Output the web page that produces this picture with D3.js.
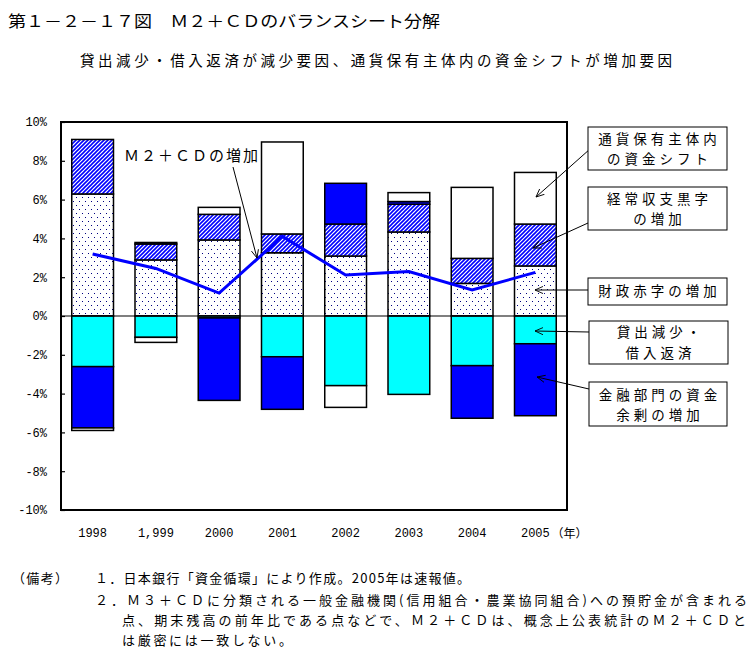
<!DOCTYPE html>
<html><head><meta charset="utf-8">
<script src="https://cdn.jsdelivr.net/npm/d3@7/dist/d3.min.js"></script>
<style>
html,body{margin:0;padding:0;background:#fff;}
svg{display:block;}
</style>
</head><body>
<svg id="chart" width="752" height="655"></svg>
<script>
// ---- data ----
const years = ["1998","1,999","2000","2001","2002","2003","2004","2005"];
const fiscalDeficit = [6.29, 2.89, 3.92, 3.26, 3.09, 4.33, 1.68, 2.58];   // 財政赤字の増加 (dotted)
const currentSurplus = [2.81, 0.82, 1.32, 0.97, 1.65, 1.43, 1.29, 2.16];  // 経常収支黒字の増加 (hatched)
const lendingDecline = [-2.61, -1.10, -0.10, -2.10, -3.59, -4.04, -2.56, -1.43]; // 貸出減少・借入返済 (cyan)
const financialSurplus = [-3.16, 0.08, -4.25, -2.71, 2.10, 0.14, -2.71, -3.71];  // 金融部門の資金余剰の増加 (blue)
const fundShift = [-0.13, -0.26, 0.36, 4.74, -1.12, 0.46, 3.66, 2.66];    // 通貨保有主体内の資金シフト (white)
const m2cd = [3.2, 2.45, 1.18, 4.1, 2.11, 2.29, 1.34, 2.25];              // Ｍ２＋ＣＤの増加
const yTicks = [-10,-8,-6,-4,-2,0,2,4,6,8,10];

const keys = ["fiscal","current","lending","financial","shift"];
const table = years.map((y,i)=>({year:y, fiscal:fiscalDeficit[i], current:currentSurplus[i],
  lending:lendingDecline[i], financial:financialSurplus[i], shift:fundShift[i]}));

const JP = "'Noto Sans CJK JP', sans-serif";
const NUM = "'Liberation Mono', 'DejaVu Sans Mono', monospace";

const svg = d3.select("#chart");
const defs = svg.append("defs");

// dotted pattern
const dots = defs.append("pattern").attr("id","dots").attr("patternUnits","userSpaceOnUse")
  .attr("width",6).attr("height",8);
dots.append("rect").attr("width",6).attr("height",8).attr("fill","#fff");
dots.append("rect").attr("x",1).attr("y",1).attr("width",1).attr("height",1).attr("fill","#000080");
dots.append("rect").attr("x",4).attr("y",5).attr("width",1).attr("height",1).attr("fill","#000080");

// hatch pattern
const hatch = defs.append("pattern").attr("id","hatch").attr("patternUnits","userSpaceOnUse")
  .attr("width",4).attr("height",4);
hatch.append("rect").attr("width",4).attr("height",4).attr("fill","#fff");
hatch.append("path").attr("d","M-1,1 L1,-1 M0,4 L4,0 M3,5 L5,3")
  .attr("stroke","#0000ff").attr("stroke-width",1.6);

// arrow marker
defs.append("marker").attr("id","arr").attr("viewBox","0 -5 10 10")
  .attr("refX",9).attr("refY",0).attr("markerWidth",9).attr("markerHeight",9)
  .attr("markerUnits","userSpaceOnUse").attr("orient","auto")
  .append("path").attr("d","M0,-4 L9,0 L0,4").attr("fill","none").attr("stroke","#000").attr("stroke-width",1);

const fills = {fiscal:"url(#dots)", current:"url(#hatch)", lending:"#00ffff", financial:"#0000ff", shift:"#ffffff"};

// scales
const x = d3.scaleBand().domain(years).range([61,567]).paddingInner(0.34).paddingOuter(0.17);
const y = d3.scaleLinear().domain([-10,10]).range([510,122]);

// stacks
const series = d3.stack().keys(keys).offset(d3.stackOffsetDiverging)(table);

const gBars = svg.append("g");
series.forEach(s=>{
  gBars.selectAll(null).data(s).join("rect")
    .attr("x", d=>x(d.data.year))
    .attr("width", x.bandwidth())
    .attr("y", d=>y(Math.max(d[0],d[1])))
    .attr("height", d=>Math.abs(y(d[0])-y(d[1])))
    .attr("fill", fills[s.key])
    .attr("stroke","#000").attr("stroke-width",1.5);
});

// zero line
svg.append("line").attr("x1",61).attr("x2",567).attr("y1",y(0)).attr("y2",y(0))
  .attr("stroke","#000").attr("stroke-width",1.2);

// M2+CD line
const line = d3.line().x((d,i)=>x(years[i])+x.bandwidth()/2).y(d=>y(d));
svg.append("path").datum(m2cd).attr("d",line).attr("fill","none")
  .attr("stroke","#0000ff").attr("stroke-width",3).attr("stroke-linejoin","miter");

// frame
svg.append("rect").attr("x",61).attr("y",122).attr("width",506).attr("height",388)
  .attr("fill","none").attr("stroke","#000").attr("stroke-width",2);

// y axis
const yAxis = d3.axisLeft(y).tickValues(yTicks).tickSizeInner(-4).tickSizeOuter(0)
  .tickPadding(14).tickFormat(d=>d+"%");
const gy = svg.append("g").attr("transform","translate(61,0)").call(yAxis);
gy.select(".domain").remove();
gy.selectAll(".tick line").attr("stroke","#000").attr("stroke-width",1.2);
gy.selectAll(".tick text").attr("font-family",NUM).attr("font-size",12).attr("fill","#000");

// x axis
const xAxis = d3.axisBottom(x).tickSize(0).tickPadding(18);
const gx = svg.append("g").attr("transform","translate(0,510)").call(xAxis);
gx.select(".domain").remove();
gx.selectAll(".tick text").attr("font-family",NUM).attr("font-size",12).attr("fill","#000");
svg.append("text").attr("x", x("2005")+x.bandwidth()/2+16).attr("y",538)
  .attr("font-family",JP).attr("font-size",12).text("（年）");

// title & subtitle
svg.append("text").attr("x",8).attr("y",27).attr("font-family",JP).attr("font-size",16)
  .attr("textLength",432).attr("lengthAdjust","spacingAndGlyphs")
  .text("第１－２－１７図　Ｍ２＋ＣＤのバランスシート分解");
svg.append("text").attr("x",80).attr("y",66).attr("font-family",JP).attr("font-size",14.5)
  .attr("textLength",592).attr("lengthAdjust","spacing")
  .text("貸出減少・借入返済が減少要因、通貨保有主体内の資金シフトが増加要因");

// M2+CD label
svg.append("text").attr("x",124).attr("y",161).attr("font-family",JP).attr("font-size",15)
  .attr("textLength",134).attr("lengthAdjust","spacing").text("Ｍ２＋ＣＤの増加");
svg.append("line").attr("x1",233).attr("y1",167).attr("x2",257).attr("y2",258)
  .attr("stroke","#000").attr("stroke-width",1).attr("marker-end","url(#arr)");

// annotation boxes
const boxes = [
  {x:588,y:127,w:139,h:43,lines:["通貨保有主体内","の資金シフト"],ly:[144,164],ax:[590,149,536,197]},
  {x:588,y:187,w:139,h:43,lines:["経常収支黒字","の増加"],ly:[204,224],ax:[588,223,533,248]},
  {x:588,y:278,w:139,h:27,lines:["財政赤字の増加"],ly:[296],ax:[588,290,535,290]},
  {x:589,y:321,w:139,h:43,lines:["貸出減少・","借入返済"],ly:[337,358],ax:[589,332,535,331]},
  {x:589,y:382,w:138,h:44,lines:["金融部門の資金","余剰の増加"],ly:[400,420],ax:[589,389,537,377]}
];
boxes.forEach(b=>{
  svg.append("line").attr("x1",b.ax[0]).attr("y1",b.ax[1]).attr("x2",b.ax[2]).attr("y2",b.ax[3])
    .attr("stroke","#000").attr("stroke-width",1).attr("marker-end","url(#arr)");
  svg.append("rect").attr("x",b.x).attr("y",b.y).attr("width",b.w).attr("height",b.h)
    .attr("fill","#fff").attr("stroke","#000").attr("stroke-width",1);
  b.lines.forEach((t,i)=>{
    svg.append("text").attr("x",b.x+b.w/2+2).attr("y",b.ly[i]).attr("text-anchor","middle")
      .attr("font-family",JP).attr("font-size",13.5).attr("letter-spacing",4).text(t);
  });
});

// footnotes
const fn = svg.append("g").attr("font-family",JP).attr("font-size",13).attr("fill","#000");
fn.append("text").attr("x",12).attr("y",583).attr("textLength",56).attr("lengthAdjust","spacing").text("（備考）");
fn.append("text").attr("x",95).attr("y",583).attr("textLength",375).attr("lengthAdjust","spacing")
  .text("１．日本銀行「資金循環」により作成。2005年は速報値。");
fn.append("text").attr("x",95).attr("y",605).attr("textLength",652).attr("lengthAdjust","spacing")
  .text("２．Ｍ３＋ＣＤに分類される一般金融機関(信用組合・農業協同組合)への預貯金が含まれる");
fn.append("text").attr("x",122).attr("y",625).attr("textLength",624).attr("lengthAdjust","spacing")
  .text("点、期末残高の前年比である点などで、Ｍ２＋ＣＤは、概念上公表統計のＭ２＋ＣＤと");
fn.append("text").attr("x",122).attr("y",645).attr("textLength",170).attr("lengthAdjust","spacing")
  .text("は厳密には一致しない。");
</script>
</body></html>
